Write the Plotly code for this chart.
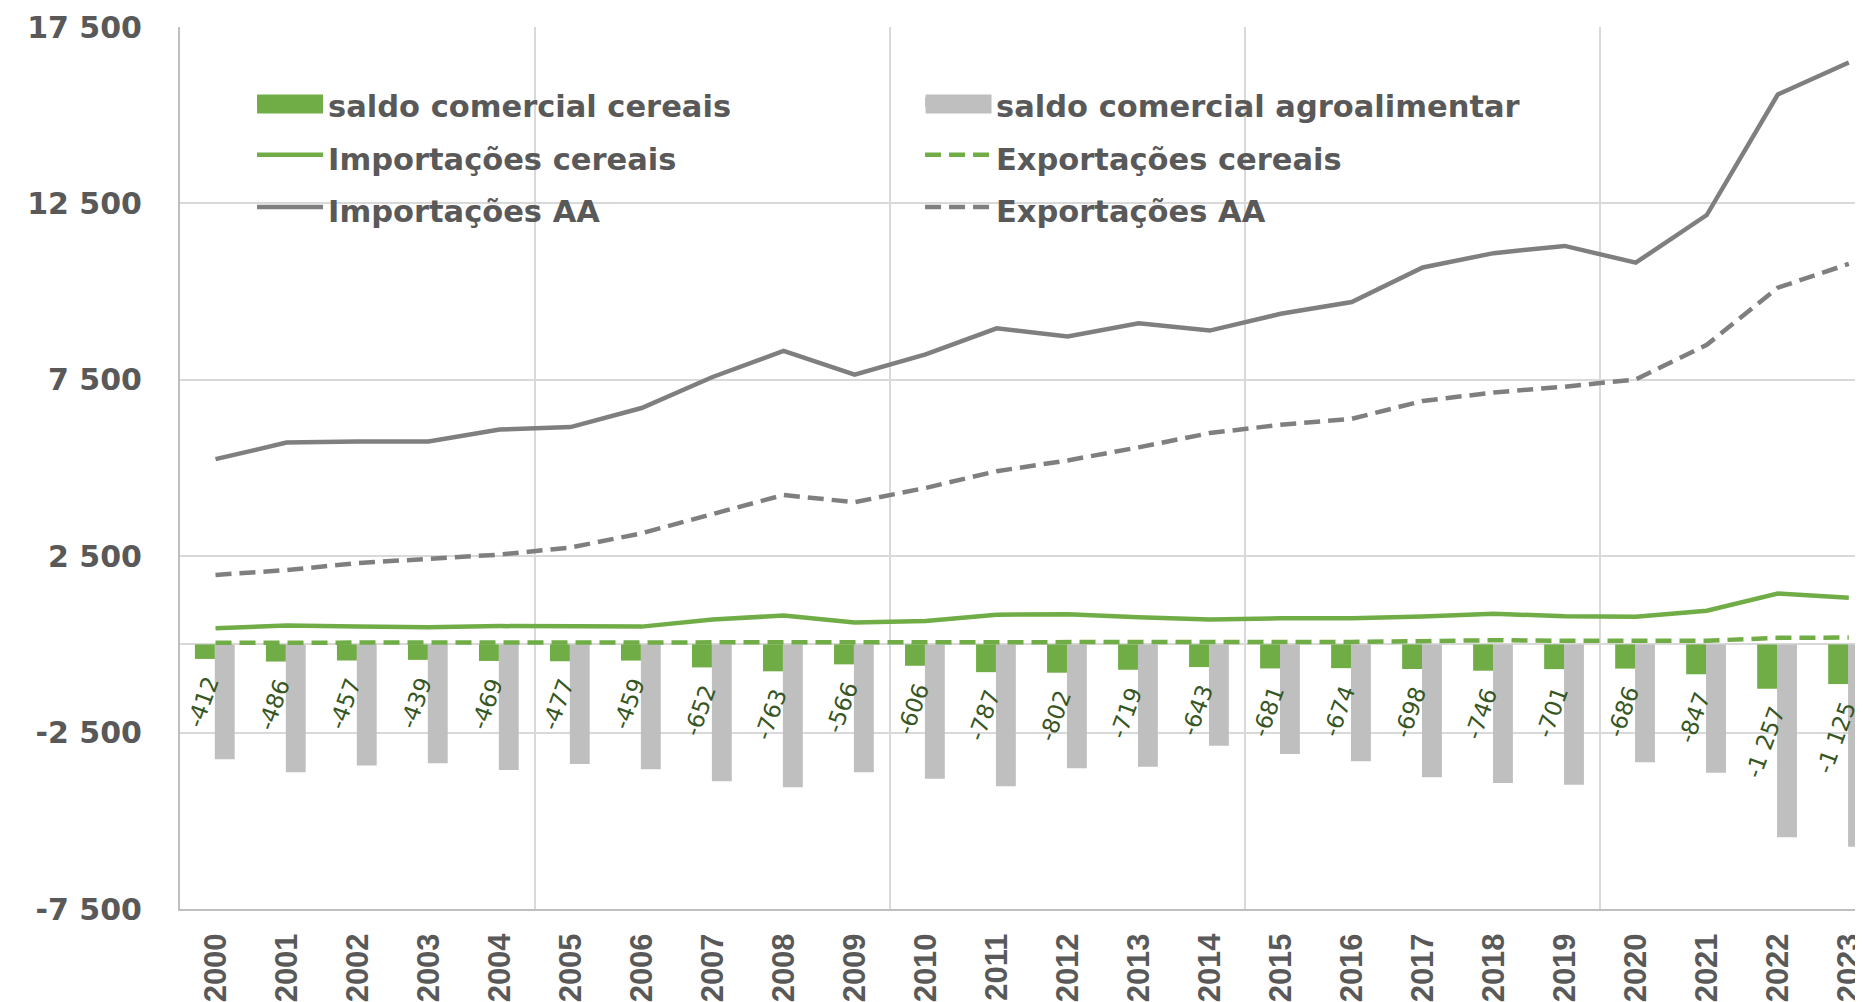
import plotly.graph_objects as go

# ---------------- data ----------------
years = ["2000", "2001", "2002", "2003", "2004", "2005", "2006", "2007",
         "2008", "2009", "2010", "2011", "2012", "2013", "2014", "2015",
         "2016", "2017", "2018", "2019", "2020", "2021", "2022", "2023"]

saldo_cereais = [-412, -486, -457, -439, -469, -477, -459, -652, -763, -566,
                 -606, -787, -802, -719, -643, -681, -674, -698, -746, -701,
                 -686, -847, -1257, -1125]

saldo_aa = [-3256, -3625, -3436, -3370, -3559, -3389, -3540, -3880, -4050, -3625,
            -3805, -4022, -3512, -3465, -2870, -3106, -3313, -3767, -3928, -3976,
            -3341, -3635, -5469, -5734]

imp_cereais = [460, 534, 507, 484, 519, 522, 504, 707, 818, 621,
               661, 842, 852, 769, 708, 741, 744, 788, 866, 801,
               781, 952, 1442, 1320]

exp_cereais = [48, 48, 50, 45, 50, 45, 45, 55, 55, 55,
               55, 55, 50, 50, 65, 60, 70, 90, 120, 100,
               95, 105, 185, 195]

imp_aa = [5250, 5720, 5750, 5750, 6090, 6160, 6700, 7580, 8320, 7645,
          8220, 8960, 8725, 9100, 8895, 9370, 9705, 10685, 11090, 11295,
          10820, 12170, 15585, 16495]

exp_aa = [1970, 2105, 2305, 2410, 2545, 2745, 3150, 3695, 4235, 4030,
          4435, 4910, 5215, 5585, 5990, 6225, 6395, 6900, 7140, 7305,
          7510, 8490, 10110, 10785]

y_ticks = [-7500, -2500, 2500, 7500, 12500, 17500]
y_ticktext = ["-7 500", "-2 500", "2 500", "7 500", "12 500", "17 500"]

grid_x = [4.5, 9.5, 14.5, 19.5]   # category boundaries (every 5 years)

# ---------------- styles ----------------
GREEN = "#70AD47"
GREY_BAR = "#BFBFBF"
GREY_LINE = "#7F7F7F"
TEXT = "#595959"
LABEL_GREEN = "#375623"
GRID = "#D9D9D9"
AXIS = "#BFBFBF"
X_RANGE = [-0.5, 23.2]
BAR_W = 0.28


def fmt(v):
    # thousands separated by a space; trailing spaces keep the label off the bar end
    return f"{v:,}".replace(",", " ") + "\u00a0\u2009"


def leg(name):
    return f'<span style="font-size:30.5px">{name}</span>'


fig = go.Figure()

# grey bars first so that the green bars' labels are drawn on top of them
fig.add_bar(x=years, y=saldo_aa, name="saldo comercial agroalimentar",
            marker=dict(color=GREY_BAR, line=dict(width=0)), showlegend=False,
            width=BAR_W, offset=-0.01)
fig.add_bar(x=years, y=saldo_cereais, name="saldo comercial cereais",
            marker=dict(color=GREEN, line=dict(width=0)), showlegend=False,
            width=BAR_W, offset=-0.01 - BAR_W,
            text=[fmt(v) for v in saldo_cereais], textposition="outside",
            textangle=-70, constraintext="none", cliponaxis=False,
            textfont=dict(family="DejaVu Sans", size=23, color=LABEL_GREEN))

# legend entries for the bars
fig.add_scatter(x=[None], y=[None], mode="lines", name=leg("saldo comercial cereais"),
                line=dict(color=GREEN, width=19), hoverinfo="skip")
fig.add_scatter(x=[None], y=[None], mode="lines", name=leg("saldo comercial agroalimentar"),
                line=dict(color=GREY_BAR, width=19), hoverinfo="skip")

fig.add_scatter(x=years, y=imp_cereais, mode="lines", name=leg("Importações cereais"),
                line=dict(color=GREEN, width=4.5))
fig.add_scatter(x=years, y=exp_cereais, mode="lines", name=leg("Exportações cereais"),
                line=dict(color=GREEN, width=4.5, dash="16px,8px"))
fig.add_scatter(x=years, y=imp_aa, mode="lines", name=leg("Importações AA"),
                line=dict(color=GREY_LINE, width=4.5))
fig.add_scatter(x=years, y=exp_aa, mode="lines", name=leg("Exportações AA"),
                line=dict(color=GREY_LINE, width=4.5, dash="16px,8px"))

# helper trace for the vertical grid at category boundaries
fig.add_scatter(x=grid_x, y=[None] * len(grid_x), xaxis="x2", mode="lines",
                showlegend=False, hoverinfo="skip")

# taller legend swatches for the two bar series (legend line width is capped)
swatches = [(0.0458, 0.0850, GREEN), (0.4430, 0.4822, GREY_BAR)]
for x0, x1, col in swatches:
    fig.add_shape(type="rect", xref="paper", yref="paper", x0=x0, x1=x1,
                  y0=0.9019, y1=0.9235, fillcolor=col, line=dict(width=0),
                  layer="above")

# the page has an 8px body margin, so the figure is 8px smaller than the window
fig.update_layout(
    width=1855, height=994,
    margin=dict(l=172, r=0, t=19, b=93, autoexpand=False),
    plot_bgcolor="white", paper_bgcolor="white",
    barmode="overlay",
    xaxis=dict(type="category", range=X_RANGE, showgrid=False, automargin=False,
               showline=True, linecolor=AXIS, linewidth=2, ticks="",
               tickangle=-90, ticklabelstandoff=10,
               tickfont=dict(family="Liberation Sans", size=31, color=TEXT, weight="bold")),
    xaxis2=dict(overlaying="x", anchor="y", range=X_RANGE, tickvals=grid_x,
                showticklabels=False, showgrid=True, gridcolor=GRID, gridwidth=1.5,
                zeroline=False, showline=False, ticks="", automargin=False),
    yaxis=dict(range=[-7500, 17500], tickvals=y_ticks, ticktext=y_ticktext,
               showgrid=True, gridcolor=GRID, gridwidth=1.5, automargin=False,
               zeroline=True, zerolinecolor=GRID, zerolinewidth=1.5,
               showline=True, linecolor=AXIS, linewidth=2, ticks="",
               ticklabelstandoff=30,
               tickfont=dict(family="DejaVu Sans", size=30, color=TEXT, weight="bold")),
    legend=dict(orientation="h", x=0.0428, y=0.95, xanchor="left", yanchor="top",
                entrywidth=587, itemwidth=66, bgcolor="rgba(0,0,0,0)",
                borderwidth=0, traceorder="normal",
                font=dict(family="DejaVu Sans", size=38, color=TEXT, weight="bold")),
    showlegend=True,
)

fig.write_html("out.html")
